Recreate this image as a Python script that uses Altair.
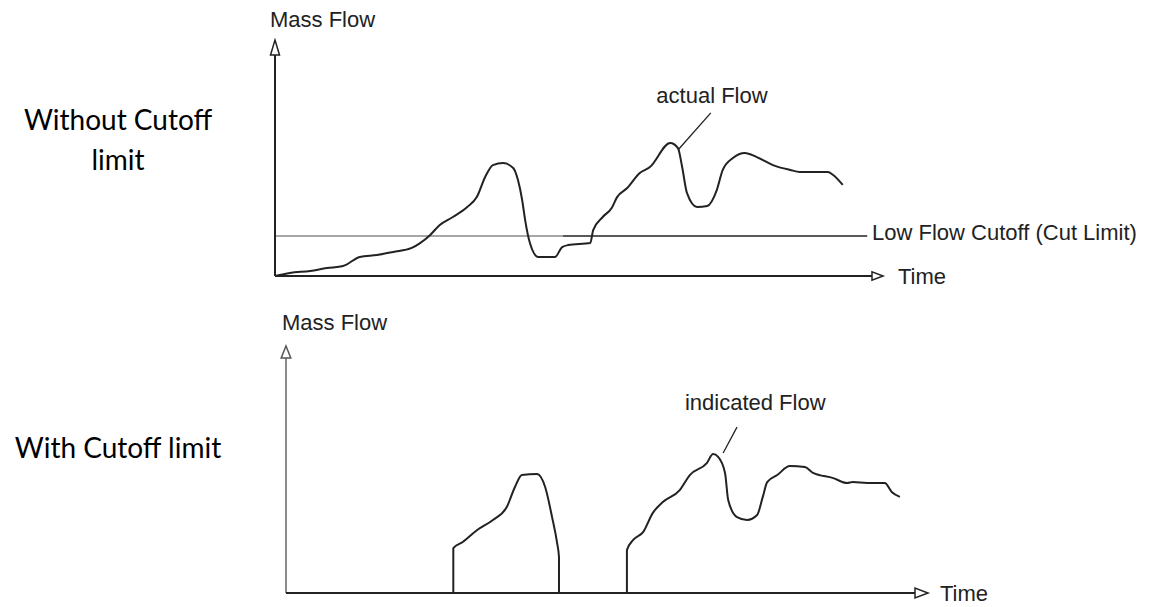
import altair as alt
import pandas as pd

# ---------------- data ----------------
# upper panel: actual flow (time units 0..100 along the drawn axis, flow units 0..100 along the drawn axis)
actual_time = [0, 2.5, 5.9, 8.7, 11.4, 14.2, 17.1, 19.8, 22.9, 24.3, 26.0, 27.6, 29.8, 32.2, 33.8,
               35.2, 36.5, 38.2, 39.9, 40.7, 41.4, 41.9, 42.7, 44.1, 46.9, 48.1, 49.1, 52.8, 53.3,
               54.9, 56.4, 57.3, 59.0, 61.1, 62.8, 66.2, 67.5, 68.2, 69.0, 70.7, 72.4, 74.0, 75.0,
               76.7, 78.7, 80.7, 83.4, 86.3, 87.9, 92.6, 93.5, 95.1]
actual_flow = [0, 1.4, 2.3, 3.6, 4.5, 8.6, 9.5, 10.9, 12.7, 14.9, 18.6, 23.1, 26.7, 31.2, 35.7,
               44.8, 50.2, 51.1, 48.9, 43.4, 34.4, 25.3, 14.9, 8.6, 8.6, 13.1, 14.0, 14.9, 20.8,
               26.7, 30.8, 35.7, 39.8, 46.6, 49.3, 60.2, 57.9, 49.3, 37.6, 31.2, 31.7, 38.9, 48.0,
               53.4, 55.7, 53.8, 50.2, 48.0, 47.1, 47.1, 45.7, 41.2]
cutoff_level = 18.1

# lower panel: indicated flow, two pieces above the cutoff
ind_time_a = [26.6, 26.6, 28.1, 30.4, 32.9, 35.1, 36.4, 37.5, 39.9, 41.2, 42.3, 43.1, 43.4, 43.4]
ind_flow_a = [0, 19.1, 21.7, 26.8, 31.1, 36.6, 45.1, 50.2, 50.6, 45.1, 32.3, 21.3, 15.3, 0]
ind_time_b = [54.2, 54.2, 55.2, 56.8, 58.3, 59.9, 62.6, 64.2, 66.9, 67.9, 68.7, 69.8, 70.3, 71.7,
              73.3, 74.9, 75.8, 76.5, 78.1, 80.1, 82.5, 83.8, 87.0, 89.2, 90.1, 92.4, 95.2, 96.3, 97.6]
ind_flow_b = [0, 18.3, 22.6, 26.0, 34.0, 38.7, 43.8, 50.2, 55.3, 59.1, 57.9, 51.1, 39.6, 32.3,
              31.1, 33.2, 40.9, 47.2, 50.2, 54.0, 53.6, 51.1, 48.9, 46.8, 47.2, 46.8, 46.8, 43.0, 40.9]

# texts
side_label_top = ["Without Cutoff", "limit"]
side_label_bottom = "With Cutoff limit"
y_label = "Mass Flow"
x_label = "Time"
cutoff_label = "Low Flow Cutoff (Cut Limit)"
actual_label = "actual Flow"
indicated_label = "indicated Flow"

# ---------------- layout / style ----------------
W = 1149
H_TOP, H_BOT = 292, 299
INK = "#222222"
GREY = "#8a8a8a"
CHART_FONT = "Liberation Sans"
SIDE_FONT = "Lato"
FS = 22

ARROW_UP_TALL = "M0,-1L0.6,1L-0.6,1Z"
ARROW_UP_WIDE = "M0,-1L0.8,1L-0.8,1Z"
ARROW_RIGHT = "M1,0L-1,0.75L-1,-0.75Z"

ONE = pd.DataFrame({"k": [0]})


def scales(origin_x, origin_y, px_x, px_y, h):
    sx = alt.Scale(domain=[-origin_x / px_x, (W - origin_x) / px_x], nice=False, zero=False)
    sy = alt.Scale(domain=[-(h - origin_y) / px_y, origin_y / px_y], nice=False, zero=False)
    return sx, sy


def X(v, s):
    return alt.XDatum(v, scale=s, axis=None)


def Y(v, s):
    return alt.YDatum(v, scale=s, axis=None)


def rule(sx, sy, x, y, x2=None, y2=None, color=INK, width=2):
    enc = dict(x=X(x, sx), y=Y(y, sy))
    if x2 is not None:
        enc["x2"] = alt.datum(x2)
    if y2 is not None:
        enc["y2"] = alt.datum(y2)
    return alt.Chart(ONE).mark_rule(color=color, strokeWidth=width).encode(**enc)


def arrow(sx, sy, x, y, shape, size, xoff=0, yoff=0, color=INK):
    return alt.Chart(ONE).mark_point(
        shape=shape, size=size, filled=True, fill="white", stroke=color,
        strokeWidth=1.5, opacity=1, xOffset=xoff, yOffset=yoff
    ).encode(x=X(x, sx), y=Y(y, sy))


def label(sx, sy, x, y, text, align="left", dx=0, dy=0, size=FS):
    return alt.Chart(ONE).mark_text(
        text=text, align=align, baseline="middle", font=CHART_FONT, fontSize=size,
        color=INK, dx=dx, dy=dy
    ).encode(x=X(x, sx), y=Y(y, sy))


def side(text, x, y):
    return alt.Chart(ONE).mark_text(
        text=text, align="center", baseline="middle", font=SIDE_FONT, fontSize=28,
        color="black", x=x, y=y
    )


# ---------------- upper panel ----------------
sx1, sy1 = scales(267, 268, 5.97, 2.21, H_TOP)
top_df = pd.DataFrame({"t": actual_time, "f": actual_flow, "i": range(len(actual_time))})

top_curve = alt.Chart(top_df).mark_line(color=INK, strokeWidth=2, interpolate="monotone").encode(
    x=alt.X("t:Q", scale=sx1, axis=None),
    y=alt.Y("f:Q", scale=sy1, axis=None),
    order="i:Q",
)

top = alt.layer(
    rule(sx1, sy1, 0, cutoff_level, x2=48.2, color=GREY, width=1.5),
    rule(sx1, sy1, 48.2, cutoff_level, x2=99.2, color=INK, width=1.5),
    rule(sx1, sy1, 0, 0, y2=100),
    rule(sx1, sy1, 0, 0, x2=100),
    arrow(sx1, sy1, 0, 100, ARROW_UP_TALL, 225, yoff=-7.5),
    arrow(sx1, sy1, 100, 0, ARROW_RIGHT, 121, xoff=5.5),
    top_curve,
    rule(sx1, sy1, 67.5, 57.0, x2=73.0, y2=73.8, width=1.3),
    label(sx1, sy1, 0, 100, y_label, dx=-5, dy=-35),
    label(sx1, sy1, 100, 0, x_label, dx=26, dy=1),
    label(sx1, sy1, 100, cutoff_level, cutoff_label, dx=0, dy=-3),
    label(sx1, sy1, 73.2, 81.4, actual_label, align="center"),
    side(side_label_top[0], 110, 114),
    side(side_label_top[1], 110, 154),
).properties(width=W, height=H_TOP)

# ---------------- lower panel ----------------
sx2, sy2 = scales(278, 293, 6.29, 2.35, H_BOT)
bot_df = pd.concat([
    pd.DataFrame({"t": ind_time_a, "f": ind_flow_a, "seg": "a", "i": range(len(ind_time_a))}),
    pd.DataFrame({"t": ind_time_b, "f": ind_flow_b, "seg": "b", "i": range(len(ind_time_b))}),
])

bot_curve = alt.Chart(bot_df).mark_line(color=INK, strokeWidth=2, interpolate="monotone").encode(
    x=alt.X("t:Q", scale=sx2, axis=None),
    y=alt.Y("f:Q", scale=sy2, axis=None),
    detail="seg:N",
    order="i:Q",
)

bottom = alt.layer(
    rule(sx2, sy2, 0, 0, y2=100, color=GREY),
    rule(sx2, sy2, 0, 0, x2=100),
    arrow(sx2, sy2, 0, 100, ARROW_UP_WIDE, 144, yoff=-6, color="#555555"),
    arrow(sx2, sy2, 100, 0, ARROW_RIGHT, 169, xoff=6.5),
    bot_curve,
    rule(sx2, sy2, 69.5, 59.6, x2=71.7, y2=70.6, width=1.3),
    label(sx2, sy2, 0, 100, y_label, dx=-4, dy=-35),
    label(sx2, sy2, 100, 0, x_label, dx=25, dy=1),
    label(sx2, sy2, 74.6, 80.9, indicated_label, align="center"),
    side(side_label_bottom, 110, 150),
).properties(width=W, height=H_BOT)

chart = alt.vconcat(top, bottom, spacing=0, bounds="flush").properties(
    padding=0, background="white"
).configure_view(stroke=None)

chart.save("out.html", embed_options={"renderer": "svg", "actions": False})
